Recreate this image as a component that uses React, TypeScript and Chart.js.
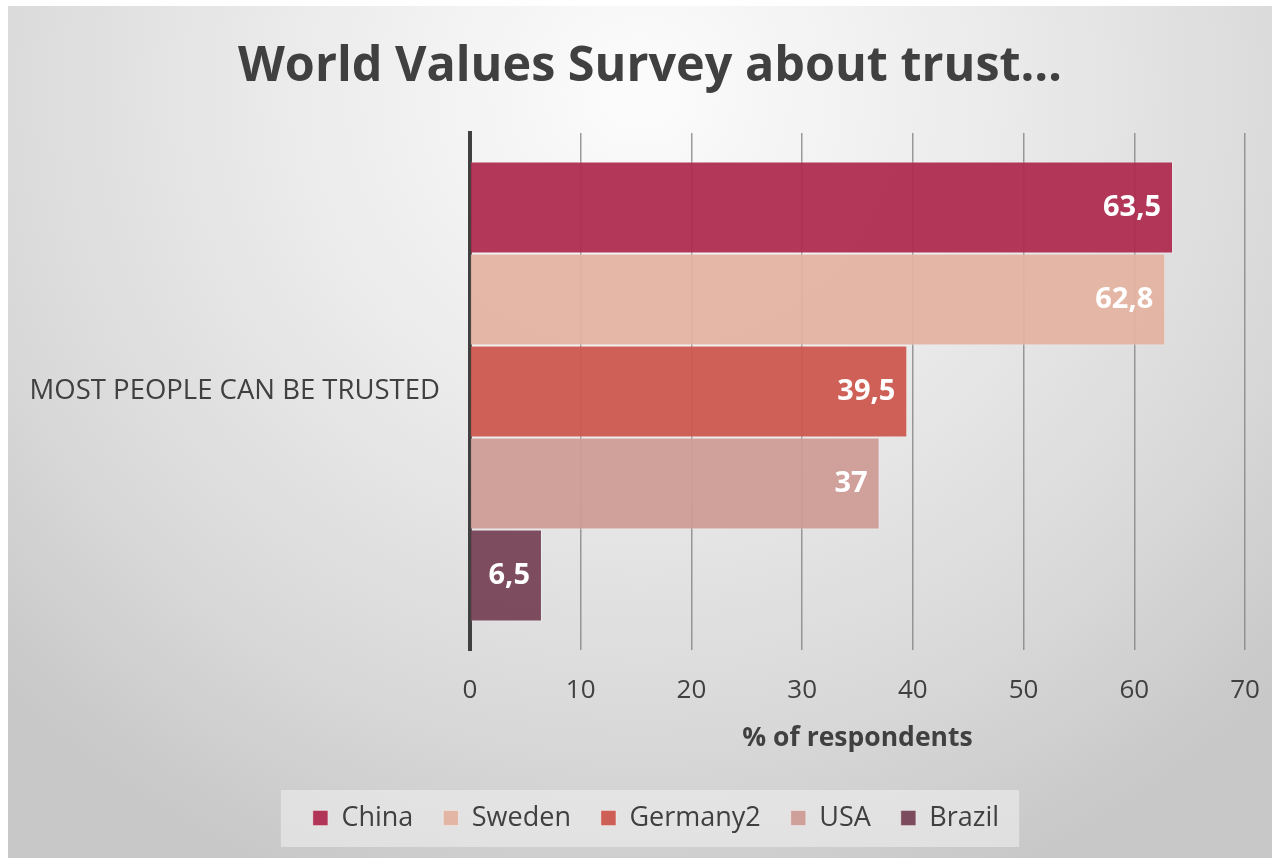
import React, { useEffect, useRef } from 'react';
import { Chart, registerables } from 'chart.js';

Chart.register(...registerables);

const categories = ['MOST PEOPLE CAN BE TRUSTED'];
const seriesNames = ['China', 'Sweden', 'Germany2', 'USA', 'Brazil'];
const chinaValues = [63.5];
const swedenValues = [62.8];
const germanyValues = [39.5];
const usaValues = [37];
const brazilValues = [6.5];
const seriesColors = ['#AE2A4E', '#E2B3A0', '#CD574F', '#CE9B96', '#764256'];
const xMin = 0;
const xMax = 70;
const xStep = 10;

const chartTitle = 'World Values Survey about trust…';
const xAxisTitle = '% of respondents';
const FAMILY = "'Open Sans', 'Noto Sans', sans-serif";
const TEXT = '#404040';

function withAlpha(hex: string, a: number) {
  const n = parseInt(hex.slice(1), 16);
  return `rgba(${(n >> 16) & 255},${(n >> 8) & 255},${n & 255},${a})`;
}

// centre title and legend on the same axis as in the original layout
const shiftBlocks = {
  id: 'shiftBlocks',
  afterLayout(chart: any) {
    const lg = chart.legend;
    if (lg) {
      const d = 648 - (lg.left + lg.right) / 2;
      lg.left += d;
      lg.right += d;
    }
    const tb = chart.titleBlock;
    if (tb) {
      const d = 642 - (tb.left + tb.right) / 2;
      tb.left += d;
      tb.right += d;
    }
  },
};

const legendBg = {
  id: 'legendBg',
  beforeDraw(chart: any) {
    const lg = chart.legend;
    const boxes = lg && lg.legendHitBoxes;
    if (!boxes || !boxes.length) return;
    const ctx = chart.ctx;
    const left = Math.min(...boxes.map((b: any) => b.left)) - 32;
    const right = Math.max(...boxes.map((b: any) => b.left + b.width)) + 20;
    const cy = boxes[0].top + boxes[0].height / 2;
    ctx.save();
    ctx.fillStyle = 'rgba(238,238,238,0.6)';
    ctx.fillRect(left, cy - 28, right - left, 57);
    ctx.restore();
  },
};

const dataLabels = {
  id: 'dataLabels',
  afterDatasetsDraw(chart: any) {
    const ctx = chart.ctx;
    ctx.save();
    ctx.font = `bold 29px ${FAMILY}`;
    ctx.fillStyle = '#ffffff';
    ctx.textAlign = 'right';
    ctx.textBaseline = 'middle';
    chart.data.datasets.forEach((ds: any, i: number) => {
      const meta = chart.getDatasetMeta(i);
      meta.data.forEach((el: any, j: number) => {
        const v = ds.data[j] as number;
        ctx.fillText(String(v).replace('.', ','), el.x - 12, el.y);
      });
    });
    ctx.restore();
  },
};

export default function App() {
  const ref = useRef<HTMLCanvasElement>(null);
  useEffect(() => {
    document.body.style.margin = '6px 0 0 8px';
    const seriesValues = [chinaValues, swedenValues, germanyValues, usaValues, brazilValues];
    const chart = new Chart(ref.current as HTMLCanvasElement, {
      type: 'bar',
      data: {
        labels: categories,
        datasets: seriesNames.map((name, i) => ({
          label: name,
          data: seriesValues[i],
          backgroundColor: withAlpha(seriesColors[i], 0.94),
          borderColor: 'rgba(255,255,255,0.35)',
          borderWidth: 1,
          categoryPercentage: 0.89,
          barPercentage: 1,
        })),
      },
      options: {
        indexAxis: 'y',
        animation: false,
        responsive: false,
        layout: { padding: { left: 10, right: 27, top: 0, bottom: 16.5 } },
        scales: {
          x: {
            min: xMin,
            max: xMax,
            ticks: { stepSize: xStep, color: TEXT, font: { family: FAMILY, size: 26 }, padding: 3 },
            grid: {
              color: (c: any) => (c.tick && c.tick.value === 0 ? 'rgba(0,0,0,0)' : 'rgba(130,130,130,0.8)'),
              lineWidth: 1.5,
              drawTicks: true,
              tickLength: 22,
              tickColor: 'rgba(0,0,0,0)',
            },
            border: { display: false },
            title: {
              display: true,
              text: xAxisTitle,
              color: TEXT,
              font: { family: FAMILY, size: 26.5, weight: 'bold' },
              padding: { top: 0, bottom: 20.6 },
            },
            afterFit: (s: any) => {
              s.height = 124.5;
            },
          },
          y: {
            ticks: { color: TEXT, font: { family: FAMILY, size: 27.5 }, padding: 30 },
            grid: { display: false, drawTicks: false },
            border: { display: true, color: '#404040', width: 4 },
            afterFit: (s: any) => {
              s.width = 452;
            },
          },
        },
        plugins: {
          title: {
            display: true,
            text: chartTitle,
            color: TEXT,
            font: { family: FAMILY, size: 48.5, weight: 'bold' },
            padding: { top: 31.9, bottom: 36.9 },
          },
          legend: {
            position: 'bottom',
            labels: { boxWidth: 15, boxHeight: 15, padding: 30, color: TEXT, font: { family: FAMILY, size: 27 } },
          },
          tooltip: { enabled: false },
        },
      } as any,
      plugins: [shiftBlocks, legendBg, dataLabels],
    });
    return () => chart.destroy();
  }, []);

  return (
    <div
      style={{
        width: 1264,
        height: 852,
        background:
          'radial-gradient(ellipse 70% 100% at 50% 10%, #fcfcfc 0%, #ebebeb 40%, #d9d9d9 75%, #c8c8c8 100%)',
      }}
    >
      <canvas ref={ref} width={1264} height={852} style={{ display: 'block' }} />
    </div>
  );
}
